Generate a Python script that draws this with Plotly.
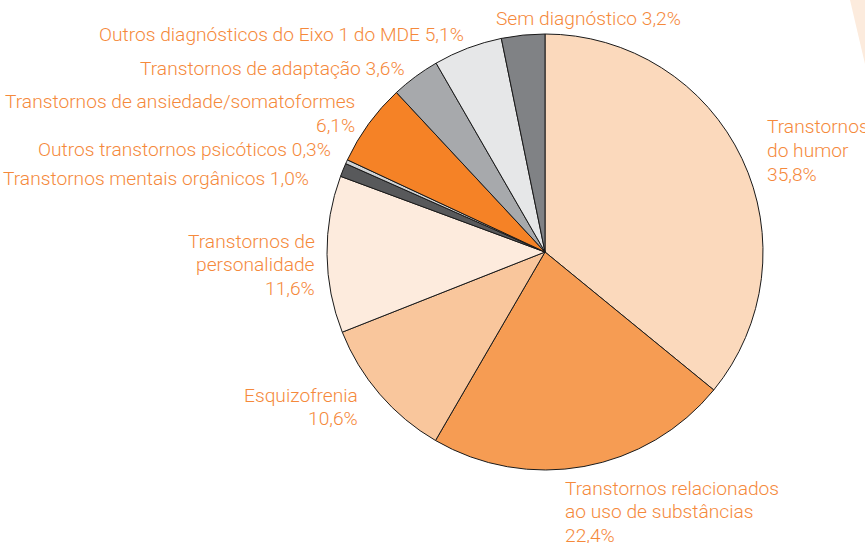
import plotly.graph_objects as go

categories = [
    "Transtornos do humor",
    "Transtornos relacionados ao uso de substâncias",
    "Esquizofrenia",
    "Transtornos de personalidade",
    "Transtornos mentais orgânicos",
    "Outros transtornos psicóticos",
    "Transtornos de ansiedade/somatoformes",
    "Transtornos de adaptação",
    "Outros diagnósticos do Eixo 1 do MDE",
    "Sem diagnóstico",
]
values = [35.8, 22.4, 10.6, 11.6, 1.0, 0.3, 6.1, 3.6, 5.1, 3.2]
colors = ["#FBD9BC", "#F69C53", "#F9C69C", "#FDEBDD", "#58595B",
          "#D1D3D4", "#F58226", "#A7A9AC", "#E6E7E8", "#808285"]

label_lines = [
    ["Transtornos", "do humor", "35,8%"],
    ["Transtornos relacionados", "ao uso de substâncias", "22,4%"],
    ["Esquizofrenia", "10,6%"],
    ["Transtornos de", "personalidade", "11,6%"],
    ["Transtornos mentais orgânicos 1,0%"],
    ["Outros transtornos psicóticos 0,3%"],
    ["Transtornos de ansiedade/somatoformes", "6,1%"],
    ["Transtornos de adaptação 3,6%"],
    ["Outros diagnósticos do Eixo 1 do MDE 5,1%"],
    ["Sem diagnóstico 3,2%"],
]
# label anchor positions in pixels (x edge, y center of first line, align)
label_pos = [
    (765, 127, "left"),
    (563, 488, "left"),
    (360, 395, "right"),
    (317, 241, "right"),
    (311, 179, "right"),
    (333, 150, "right"),
    (357, 102, "right"),
    (407, 68, "right"),
    (466, 35, "right"),
    (494, 18, "left"),
]
LINE_GAP = 23.5

W, H = 865, 543
TEXT = "#F5893B"

fig = go.Figure(go.Pie(
    labels=categories,
    values=values,
    sort=False,
    direction="clockwise",
    rotation=0,
    marker=dict(colors=colors, line=dict(color="#1a1a1a", width=1)),
    textinfo="none",
    hoverinfo="label+percent",
    domain=dict(x=[327 / W, 763 / W], y=[1 - 470 / H, 1 - 34 / H]),
    showlegend=False,
))

for lines, (x, y, al) in zip(label_lines, label_pos):
    for i, line in enumerate(lines):
        fig.add_annotation(
            x=x / W, y=1 - (y + i * LINE_GAP) / H, xref="paper", yref="paper",
            xanchor="left" if al == "left" else "right", yanchor="middle",
            text=line, showarrow=False, align=al,
            font=dict(family="Roboto", size=19.2, color=TEXT, weight=300),
        )

# faint decorative shape in top-right corner
fig.add_shape(type="path", xref="paper", yref="paper",
              path=f"M {850/W} 1 L 1 1 L 1 {1-64/H} Z",
              fillcolor="#FCEBDD", line=dict(width=0), layer="below")

fig.update_layout(
    width=W, height=H,
    margin=dict(l=0, r=0, t=0, b=0),
    paper_bgcolor="white", plot_bgcolor="white",
)

fig.write_html("out.html", config={"displayModeBar": False},
               post_script="document.body.style.margin='0';")
